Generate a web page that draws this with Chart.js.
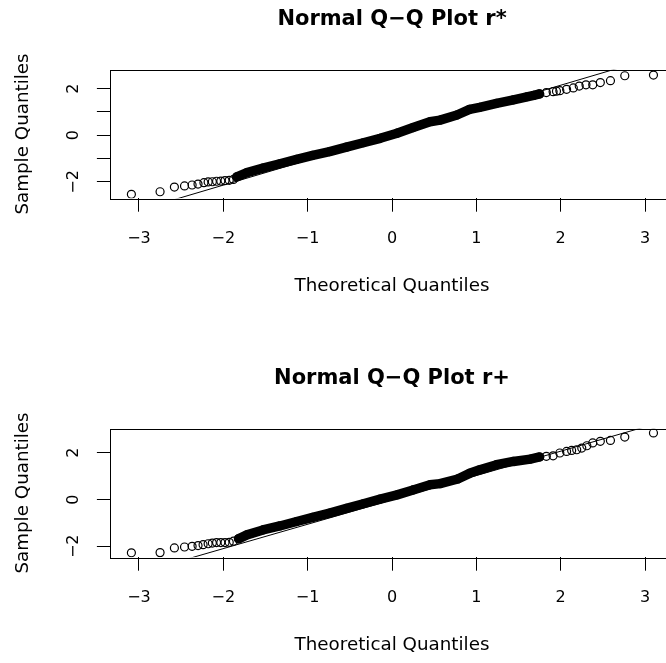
<!DOCTYPE html>
<html>
<head>
<meta charset="utf-8">
<script src="https://cdn.jsdelivr.net/npm/chart.js@4.4.1/dist/chart.umd.min.js"></script>
<style>
  html, body { margin: 0; padding: 0; overflow: hidden; background: #fff; width: 666px; height: 663px; }
  canvas { position: absolute; left: 0; }
</style>
</head>
<body>
<canvas id="qqTop" width="740" height="359" style="top:0"></canvas>
<canvas id="qqBottom" width="740" height="359" style="top:359px"></canvas>
<script>
// axis ticks
const xTicks = [-3, -2, -1, 0, 1, 2, 3];
const topYTicks = [-2, -1, 0, 1, 2];
const bottomYTicks = [-2, -1, 0, 1, 2, 3];
const yLabelled = [-2, 0, 2];

// r* : points (theoretical, sample)
const topLeftX = [-3.09, -2.75, -2.58, -2.46, -2.37, -2.30, -2.23, -2.18, -2.13, -2.08, -2.03, -1.98, -1.93, -1.88];
const topLeftY = [-2.53, -2.42, -2.22, -2.17, -2.13, -2.09, -2.03, -2.00, -1.99, -1.97, -1.96, -1.94, -1.93, -1.89];
const topBandX = [-1.84, -1.72, -1.53, -1.33, -1.13, -0.94, -0.74, -0.54, -0.34, -0.14, 0.06, 0.25, 0.45, 0.57, 0.77, 0.92, 1.04, 1.24, 1.44, 1.60, 1.68, 1.75];
const topBandY = [-1.78, -1.60, -1.41, -1.22, -1.03, -0.86, -0.70, -0.51, -0.32, -0.13, 0.09, 0.33, 0.58, 0.65, 0.87, 1.11, 1.20, 1.37, 1.52, 1.65, 1.71, 1.77];
const topRightX = [1.83, 1.91, 1.95, 1.99, 2.07, 2.15, 2.22, 2.30, 2.38, 2.47, 2.59, 2.76, 3.10];
const topRightY = [1.83, 1.87, 1.89, 1.91, 1.97, 2.03, 2.11, 2.16, 2.16, 2.26, 2.34, 2.55, 2.58];
const topLineX = [-3.5, 3.5];
const topLineY = [-3.74, 3.75];

// r+
const botLeftX = [-3.09, -2.75, -2.58, -2.46, -2.37, -2.30, -2.24, -2.18, -2.13, -2.08, -2.03, -1.98, -1.93, -1.88];
const botLeftY = [-2.28, -2.27, -2.07, -2.03, -2.00, -1.97, -1.93, -1.89, -1.86, -1.84, -1.84, -1.84, -1.83, -1.78];
const botBandX = [-1.82, -1.72, -1.53, -1.33, -1.13, -0.94, -0.74, -0.54, -0.34, -0.14, 0.06, 0.25, 0.45, 0.57, 0.78, 0.92, 1.04, 1.24, 1.44, 1.64, 1.75];
const botBandY = [-1.68, -1.51, -1.30, -1.13, -0.94, -0.76, -0.58, -0.38, -0.18, 0.02, 0.20, 0.41, 0.63, 0.68, 0.88, 1.12, 1.27, 1.49, 1.63, 1.73, 1.82];
const botRightX = [1.83, 1.91, 1.99, 2.07, 2.13, 2.19, 2.25, 2.31, 2.38, 2.47, 2.59, 2.76, 3.10];
const botRightY = [1.85, 1.87, 1.99, 2.06, 2.10, 2.13, 2.20, 2.30, 2.42, 2.49, 2.53, 2.67, 2.85];
const botLineX = [-3.5, 3.5];
const botLineY = [-3.66, 3.63];

Chart.defaults.font.family = "'DejaVu Sans', sans-serif";
Chart.defaults.color = '#000';

const pairs = (xs, ys) => xs.map((x, i) => ({ x: x, y: ys[i] }));
const fmt = v => v < 0 ? '\u2212' + (-v) : String(v);

// plot frame like R's box()
const boxPlugin = {
    id: 'box',
    afterDraw(chart) {
        const { ctx, chartArea: a } = chart;
        ctx.save();
        ctx.strokeStyle = '#000';
        ctx.lineWidth = 1;
        ctx.strokeRect(Math.round(a.left) + 0.5, Math.round(a.top) + 0.5,
            Math.round(a.right - a.left), Math.round(a.bottom - a.top));
        ctx.restore();
    }
};

function qqChart(id, title, yMin, yMax, yTicks, points, band, line) {
    return new Chart(document.getElementById(id), {
        type: 'scatter',
        data: {
            datasets: [
                {
                    data: line, showLine: true, pointRadius: 0,
                    borderColor: '#000', borderWidth: 1, clip: 0
                },
                {
                    data: points, pointRadius: 4, pointHoverRadius: 4,
                    pointBorderWidth: 1.2, borderColor: '#000',
                    backgroundColor: 'rgba(0,0,0,0)', clip: 0
                },
                {
                    // dense middle of the sample, where the circles merge
                    data: band, showLine: true, pointRadius: 0,
                    borderColor: '#000', borderWidth: 9.5,
                    borderCapStyle: 'round', borderJoinStyle: 'round', clip: 0
                }
            ]
        },
        options: {
            responsive: false,
            animation: false,
            devicePixelRatio: 1,
            layout: { padding: { top: 0, left: 0, right: 66.3, bottom: 62 } },
            plugins: {
                legend: { display: false },
                tooltip: { enabled: false },
                title: {
                    display: true, text: title, fullSize: false,
                    font: { size: 21, weight: 'bold' },
                    padding: { top: 7.1, bottom: 37.4 }
                }
            },
            scales: {
                x: {
                    type: 'linear', min: -3.34, max: 3.34,
                    afterBuildTicks: s => { s.ticks = xTicks.map(v => ({ value: v })); },
                    afterFit: s => { s.height = 98.7; },
                    grid: { drawOnChartArea: false, tickLength: 13.4, color: '#000' },
                    border: { display: false },
                    ticks: { font: { size: 16 }, padding: 17.2, callback: v => fmt(v) },
                    title: { display: true, text: 'Theoretical Quantiles', font: { size: 18.3 }, padding: 0 }
                },
                y: {
                    type: 'linear', min: yMin, max: yMax,
                    afterBuildTicks: s => { s.ticks = yTicks.map(v => ({ value: v })); },
                    afterFit: s => { s.width = 110.3; },
                    grid: { drawOnChartArea: false, tickLength: 13.4, color: '#000' },
                    border: { display: false },
                    ticks: {
                        font: { size: 16 }, padding: 11, minRotation: 90, maxRotation: 90,
                        crossAlign: 'center',
                        callback: v => yLabelled.includes(v) ? fmt(v) : ''
                    },
                    title: { display: true, text: 'Sample Quantiles', font: { size: 18.3 }, padding: { top: 12, bottom: 0 } }
                }
            }
        },
        plugins: [boxPlugin]
    });
}

qqChart('qqTop', 'Normal Q\u2212Q Plot r*', -2.70, 2.81, topYTicks,
    pairs(topLeftX.concat(topBandX, topRightX), topLeftY.concat(topBandY, topRightY)),
    pairs(topBandX, topBandY), pairs(topLineX, topLineY));

qqChart('qqBottom', 'Normal Q\u2212Q Plot r+', -2.47, 3.03, bottomYTicks,
    pairs(botLeftX.concat(botBandX, botRightX), botLeftY.concat(botBandY, botRightY)),
    pairs(botBandX, botBandY), pairs(botLineX, botLineY));
</script>
</body>
</html>
